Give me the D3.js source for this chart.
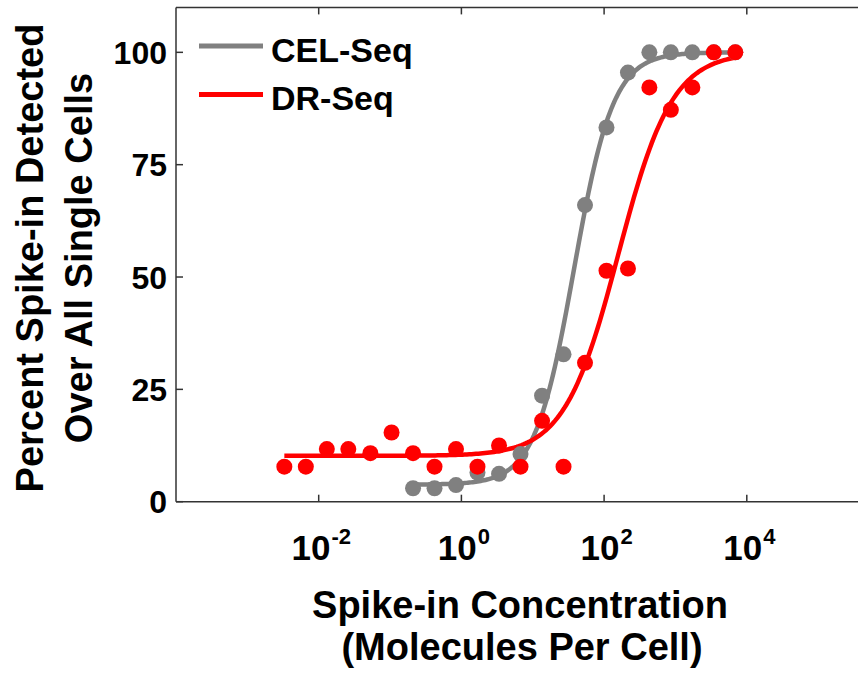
<!DOCTYPE html>
<html>
<head>
<meta charset="utf-8">
<script src="https://cdn.jsdelivr.net/npm/d3@7"></script>
<style>
  html, body { margin: 0; padding: 0; background: #fff; }
  svg { display: block; }
  text { font-family: "Liberation Sans", Arial, Helvetica, sans-serif; font-weight: bold; fill: #000; }
</style>
</head>
<body>
<svg id="chart" width="858" height="675"></svg>
<script>
// Spike-in concentrations (molecules per cell), two-fold dilution series
const concentration = [0.0033, 0.0066, 0.013, 0.026, 0.053, 0.105, 0.21, 0.42, 0.84, 1.68, 3.37,
                       6.74, 13.5, 27, 54, 108, 216, 431, 862, 1725, 3450, 6900];

// Percent of single cells in which each spike-in was detected
const celSeq = [null, null, null, null, null, null, 3.0, 3.0, 3.7, 6.5, 6.2,
                10.6, 23.6, 32.8, 66.0, 83.3, 95.5, 100, 100, 100, 100, 100];
const drSeq  = [7.8, 7.8, 11.7, 11.7, 10.8, 15.4, 10.8, 7.8, 11.7, 7.8, 12.5,
                7.8, 18.0, 7.8, 30.9, 51.4, 51.9, 92.2, 87.2, 92.2, 100, 100];

// Four-parameter logistic fits: [bottom, top, log10 EC50, Hill slope]
const celFit = [3.8, 100, 1.58, 1.58];
const drFit  = [10.2, 100, 2.2, 1.15];

const seriesNames  = ["CEL-Seq", "DR-Seq"];
const seriesColors = ["#808080", "#ff0000"];

const yTicks = [0, 25, 50, 75, 100];
const xTicks = [1e-2, 1e0, 1e2, 1e4];
const xTickExp = ["-2", "0", "2", "4"];

const svg = d3.select("#chart");

const x = d3.scaleLog().domain([1e-4, 1e6]).range([176, 889.5]);
const y = d3.scaleLinear().domain([0, 110]).range([501.7, 7.4]);

// frame
const frame = svg.append("g").attr("stroke", "#333").attr("stroke-width", 1.5).attr("fill", "none");
frame.append("line").attr("x1", x.range()[0]).attr("x2", x.range()[0]).attr("y1", y(0)).attr("y2", y(110));
frame.append("line").attr("x1", x.range()[0]).attr("x2", x.range()[1]).attr("y1", y(110)).attr("y2", y(110));
frame.append("line").attr("x1", x.range()[0]).attr("x2", x.range()[1]).attr("y1", y(0)).attr("y2", y(0));

// inward ticks
const tickLen = 7;
xTicks.forEach(t => {
  frame.append("line").attr("x1", x(t)).attr("x2", x(t)).attr("y1", y(0)).attr("y2", y(0) - tickLen);
  frame.append("line").attr("x1", x(t)).attr("x2", x(t)).attr("y1", y(110)).attr("y2", y(110) + tickLen);
});
yTicks.forEach(t => {
  frame.append("line").attr("x1", x.range()[0]).attr("x2", x.range()[0] + tickLen).attr("y1", y(t)).attr("y2", y(t));
});

// y tick labels
svg.append("g").selectAll("text").data(yTicks).join("text")
  .attr("x", 167).attr("y", d => y(d)).attr("dy", "0.36em")
  .attr("text-anchor", "end").style("font-size", "32px")
  .text(d => d);

// x tick labels: 10 with superscript exponent
const xl = svg.append("g");
xTicks.forEach((t, i) => {
  const txt = xl.append("text").attr("y", 560).style("font-size", "35px");
  txt.append("tspan").text("10");
  txt.append("tspan").attr("dy", -16).attr("dx", 1).style("font-size", "22px").text(xTickExp[i]);
  const w = txt.node().getComputedTextLength();
  txt.attr("x", x(t) - w / 2 + 2);
});

// axis titles
svg.append("text").attr("x", 520).attr("y", 618).attr("text-anchor", "middle")
  .style("font-size", "38px").text("Spike-in Concentration");
svg.append("text").attr("x", 522).attr("y", 660).attr("text-anchor", "middle")
  .style("font-size", "38px").text("(Molecules Per Cell)");

svg.append("text").attr("transform", "translate(43,258) rotate(-90)").attr("text-anchor", "middle")
  .style("font-size", "38px").text("Percent Spike-in Detected");
svg.append("text").attr("transform", "translate(92,258) rotate(-90)").attr("text-anchor", "middle")
  .style("font-size", "38px").text("Over All Single Cells");

// fitted curves
function logistic(p, c) {
  const [b, t, lec, h] = p;
  return b + (t - b) / (1 + Math.pow(10, h * (lec - Math.log10(c))));
}
function fitSamples(p, lo, hi) {
  const l0 = Math.log10(lo), l1 = Math.log10(hi);
  return d3.range(0, 201).map(k => {
    const c = Math.pow(10, l0 + (l1 - l0) * k / 200);
    return [c, logistic(p, c)];
  });
}
const line = d3.line().x(d => x(d[0])).y(d => y(d[1]));

const celPts = concentration.map((c, i) => [c, celSeq[i]]).filter(d => d[1] != null);
const drPts  = concentration.map((c, i) => [c, drSeq[i]]);

svg.append("path").attr("d", line(fitSamples(celFit, celPts[0][0], celPts[celPts.length - 1][0])))
  .attr("fill", "none").attr("stroke", seriesColors[0]).attr("stroke-width", 4.5);
svg.append("path").attr("d", line(fitSamples(drFit, drPts[0][0], drPts[drPts.length - 1][0])))
  .attr("fill", "none").attr("stroke", seriesColors[1]).attr("stroke-width", 4.5);

// data points
svg.append("g").selectAll("circle").data(celPts).join("circle")
  .attr("cx", d => x(d[0])).attr("cy", d => y(d[1])).attr("r", 8).attr("fill", seriesColors[0]);
svg.append("g").selectAll("circle").data(drPts).join("circle")
  .attr("cx", d => x(d[0])).attr("cy", d => y(d[1])).attr("r", 8).attr("fill", seriesColors[1]);

// legend
const legY = [46, 94.5];
const legBase = [62, 110];
seriesNames.forEach((n, i) => {
  svg.append("line").attr("x1", 199).attr("x2", 263).attr("y1", legY[i]).attr("y2", legY[i])
    .attr("stroke", seriesColors[i]).attr("stroke-width", 5);
  svg.append("text").attr("x", 271).attr("y", legBase[i]).style("font-size", "34px").text(n);
});
</script>
</body>
</html>
